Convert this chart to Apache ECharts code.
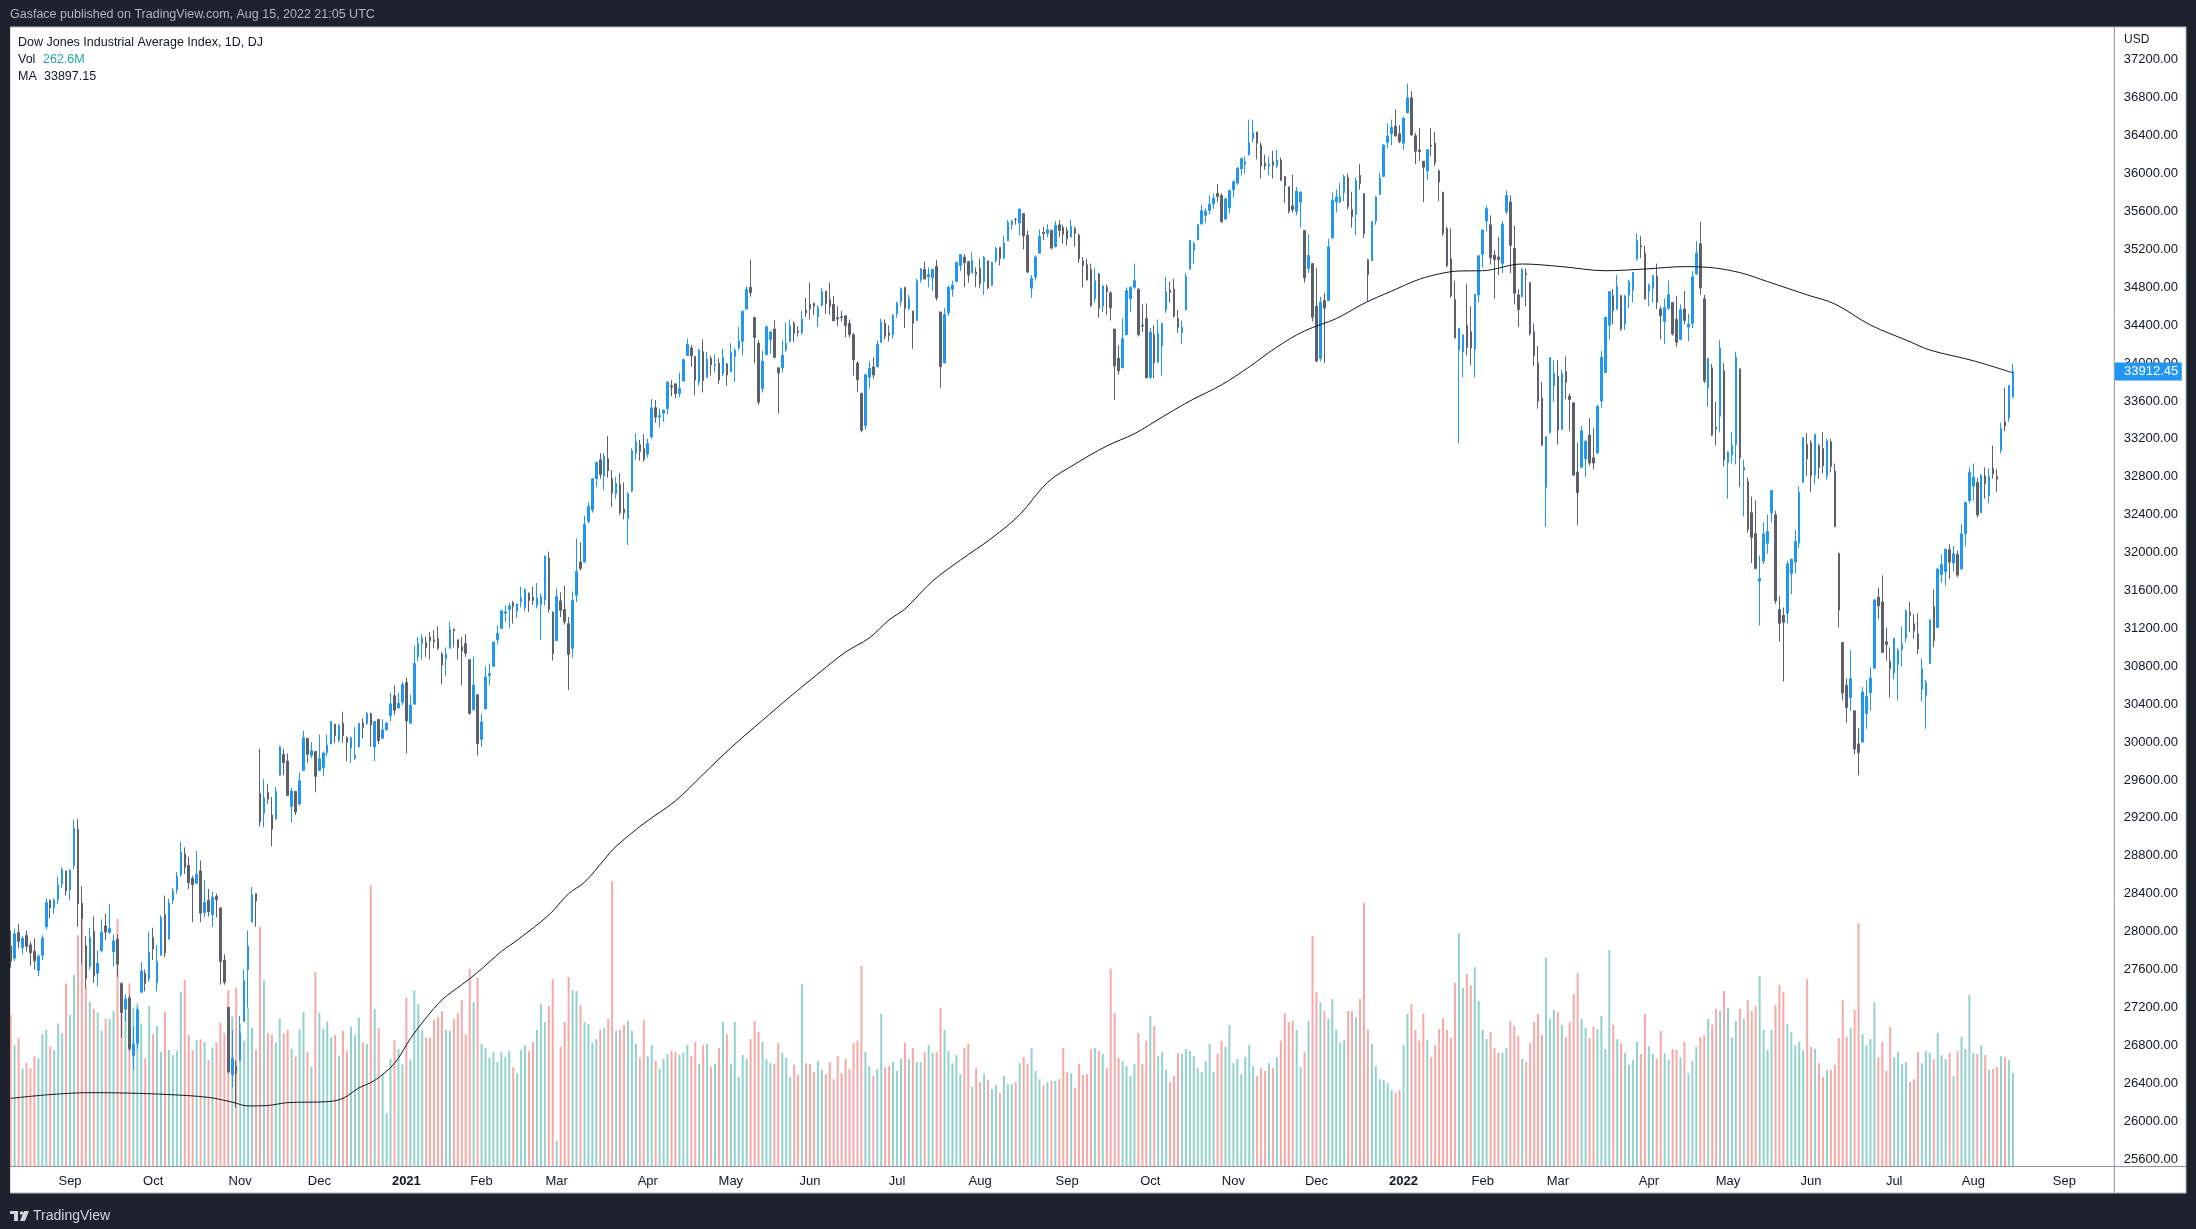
<!DOCTYPE html>
<html><head><meta charset="utf-8">
<script src="https://cdn.jsdelivr.net/npm/echarts/dist/echarts.min.js"></script>
<style>html,body{margin:0;padding:0;background:#1e222d;}#c{width:2196px;height:1229px;}</style>
</head><body><div id="c"></div>
<script>
// ---------------- DATA ----------------
const startDate = '2020-08-11';
const holidays = ['2020-09-07','2020-11-26','2020-12-25','2021-01-01','2021-01-18','2021-02-15','2021-04-02','2021-05-31','2021-07-05','2021-09-06','2021-11-25','2021-12-24','2022-01-17','2022-02-21','2022-04-15','2022-05-30','2022-06-20','2022-07-04','2022-09-05'];
const futureBars = 25;
const monthNames = ['Jan','Feb','Mar','Apr','May','Jun','Jul','Aug','Sep','Oct','Nov','Dec'];
// [open, close, low, high]
const ohlc = [
[27850,27687,27620,28010],[27720,27976,27690,28030],[27990,27897,27820,28080],[27830,27931,27760,27950],[27960,27844,27790,28010],
[27860,27778,27640,27890],[27790,27692,27600,27930],[27590,27740,27530,27760],[27750,27930,27700,27960],[28050,28308,28020,28350],
[28330,28249,28140,28340],[28250,28332,28190,28350],[28340,28492,28290,28580],[28500,28654,28460,28680],[28640,28430,28380,28640],
[28440,28646,28330,28660],[28700,29090,28660,29180],[29080,28292,28050,29190],[28300,28133,27660,28480],[27850,27501,27400,27950],
[27630,27940,27600,28040],[28000,27535,27460,28160],[27560,27666,27420,27800],[27800,27993,27780,28130],[28060,27995,27910,28190],
[27990,28032,27980,28290],[27790,27902,27630,27970],[27920,27657,27520,27970],[27450,27148,26880,27460],[27180,27288,27060,27340],
[27300,26763,26740,27330],[26690,26815,26540,27000],[26820,27174,26760,27200],[27360,27584,27360,27680],[27560,27452,27370,27600],
[27500,27782,27470,28000],[27940,27817,27700,28040],[27460,27683,27370,27860],[27750,28149,27750,28170],[28180,27773,27730,28380],
[27920,28303,27920,28350],[28330,28426,28290,28460],[28440,28587,28400,28630],[28600,28838,28580,28950],[28820,28680,28610,28890],
[28700,28515,28450,28790],[28560,28494,28100,28590],[28510,28606,28500,28850],[28640,28195,28100,28750],[28200,28309,28150,28540],
[28330,28211,28160,28450],[28180,28364,28050,28420],[28370,28336,28150,28400],[28250,27685,27440,28260],[27700,27463,27440,27760],
[27200,26520,26500,27200],[26490,26660,26360,26960],[26580,26502,26140,26640],[26640,26925,26640,27110],[27050,27481,27050,27600],
[27600,27848,27200,28010],[28100,28390,28100,28470],[28400,28323,28050,28400],[29460,29158,29110,29930],[29250,29410,29100,29610],
[29470,29398,29350,29560],[29230,29080,28900,29420],[29190,29480,29180,29530],[29650,29950,29650,29960],[29870,29784,29650,29930],
[29800,29438,29430,29880],[29320,29483,29150,29520],[29480,29263,29230,29480],[29350,29591,29330,29680],[29700,30046,29700,30120],
[30040,29872,29780,30040],[29860,29910,29830,30000],[29900,29639,29470,29900],[29700,29823,29700,30080],[29730,29884,29640,29900],
[29890,29970,29850,30080],[29980,30218,29980,30220],[30190,30070,29990,30190],[30020,30174,30000,30190],[30200,30068,29990,30320],
[30050,29999,29800,30060],[29940,30046,29780,30060],[29830,29862,29810,30160],[29950,30199,29940,30200],[30200,30155,30040,30250],
[30200,30304,30180,30320],[30300,30180,29950,30310],[29950,30216,29800,30220],[30240,30016,29980,30240],[30040,30129,30040,30240],
[30130,30200,30120,30210],[30280,30404,30220,30520],[30490,30336,30290,30600],[30360,30410,30360,30520],[30420,30606,30390,30640],
[30630,30224,29880,30680],[30200,30392,30200,30500],[30400,30829,30400,31020],[30900,31041,30850,31110],[31040,31098,30870,31140],
[31050,30998,30900,31110],[31110,31068,30870,31160],[31080,31060,30990,31180],[31090,30992,30970,31220],[30930,30814,30610,30950],
[30880,30930,30700,31000],[30990,31188,30990,31270],[31190,31176,31000,31200],[31080,30997,30870,31080],[31010,30960,30600,31110],
[31040,30937,30900,31140],[30870,30303,30290,30870],[30340,30603,30340,30900],[30500,29983,29860,30500],[30030,30212,29950,30300],
[30350,30688,30350,30800],[30700,30724,30600,30830],[30800,31056,30800,31060],[31080,31148,31030,31230],[31200,31386,31200,31390],
[31360,31375,31270,31440],[31400,31438,31200,31470],[31470,31431,31250,31490],[31380,31458,31310,31460],[31480,31523,31420,31640],
[31420,31613,31380,31620],[31570,31494,31370,31580],[31530,31494,31450,31640],[31440,31522,31410,31680],[31450,31537,31080,31570],
[31500,31962,31440,31970],[31940,31402,31370,32010],[31370,30932,30860,31380],[31070,31535,31070,31620],[31490,31391,31320,31580],
[31400,31270,31240,31650],[31250,30924,30550,31320],[30990,31496,30890,31590],[31550,31802,31480,32150],[31900,31833,31810,32110],
[31900,32297,31900,32390],[32330,32486,32310,32530],[32450,32779,32420,32780],[32780,32953,32690,32960],[32980,32826,32780,33050],
[32810,33015,32660,33050],[32990,32862,32790,33230],[32780,32628,32480,32870],[32620,32732,32570,32800],[32720,32423,32400,32840],
[32460,32420,32350,32740],[32360,32620,32080,32640],[32650,33073,32640,33100],[33050,33171,32980,33260],[33140,33067,32970,33190],
[33100,32982,32960,33250],[33040,33153,33000,33200],[33220,33527,33200,33620],[33530,33430,33370,33610],[33430,33446,33320,33520],
[33470,33504,33380,33510],[33520,33801,33460,33810],[33760,33746,33650,33820],[33780,33677,33630,33790],[33680,33731,33640,33900],
[33810,34036,33810,34050],[34080,34200,34080,34260],[34160,34078,33960,34190],[34070,33821,33660,34070],[33800,34137,33760,34150],
[34120,33816,33690,34250],[33850,34043,33840,34120],[34050,33982,33870,34080],[33970,33985,33900,34090],[34000,33821,33780,34050],
[33890,34060,33860,34150],[33990,33875,33760,34000],[33910,34113,33900,34210],[34070,34133,33800,34160],[34160,34230,34140,34380],
[34230,34548,34080,34550],[34570,34778,34570,34810],[34800,34743,34700,35090],[34480,34270,34000,34490],[34210,33587,33560,34240],
[33730,34022,33690,34130],[34090,34382,34080,34400],[34250,34327,34100,34340],[34360,34061,34050,34450],[33950,33896,33470,33910],
[33950,34084,33900,34240],[34140,34208,34120,34430],[34230,34394,34220,34460],[34420,34313,34220,34440],[34340,34324,34280,34390],
[34320,34465,34300,34550],[34560,34529,34490,34690],[34620,34575,34460,34850],[34630,34600,34510,34640],[34490,34577,34380,34610],
[34610,34756,34600,34790],[34760,34630,34520,34760],[34670,34600,34510,34850],[34620,34447,34440,34710],[34480,34466,34390,34600],
[34490,34480,34440,34550],[34500,34394,34270,34500],[34420,34299,34270,34460],[34300,34033,33870,34320],[34000,33823,33700,34020],
[33680,33290,33270,33690],[33340,33877,33300,33890],[33850,33946,33730,34020],[33960,33874,33830,34060],[33960,34196,33960,34240],
[34220,34434,34220,34470],[34420,34283,34250,34460],[34320,34292,34230,34400],[34300,34503,34260,34520],[34520,34633,34480,34650],
[34650,34786,34600,34800],[34800,34577,34370,34800],[34580,34681,34560,34720],[34550,34422,34150,34550],[34450,34870,34450,34890],
[34880,34996,34850,35000],[34990,34889,34880,35070],[34910,34934,34800,35010],[34900,34987,34760,35000],[35020,34688,34660,35090],
[34540,33962,33740,34540],[34000,34512,34000,34580],[34530,34798,34500,34820],[34780,34823,34700,34870],[34860,35062,34860,35070],
[35030,35144,34970,35150],[35120,35059,34800,35150],[35070,34930,34850,35080],[34950,35085,34950,35170],[34960,34935,34800,35010],
[35000,34838,34790,35100],[34860,35117,34720,35130],[35080,34793,34780,35080],[34820,35065,34820,35070],[35080,35209,35060,35230],
[35220,35102,35030,35220],[35110,35265,35100,35340],[35290,35485,35290,35510],[35460,35500,35410,35510],[35520,35516,35460,35530],
[35480,35626,35350,35630],[35580,35343,35200,35580],[35350,34961,34950,35400],[34790,34894,34690,34930],[34910,35120,34870,35140],
[35160,35336,35160,35410],[35380,35367,35300,35440],[35370,35406,35330,35470],[35400,35214,35200,35410],[35230,35456,35220,35500],
[35460,35400,35330,35510],[35430,35361,35260,35460],[35400,35313,35240,35440],[35330,35444,35330,35510],[35420,35369,35230,35440],
[35350,35100,35060,35370],[35080,35031,34800,35120],[35040,34879,34870,35100],[34990,34608,34590,35050],[34680,34870,34640,35000],
[34940,34578,34480,34950],[34600,34814,34540,34820],[34800,34751,34510,34830],[34740,34584,34450,34760],[34360,33970,33610,34360],
[34050,33919,33880,34190],[33950,34258,33950,34470],[34300,34765,34300,34800],[34680,34798,34540,34810],[34800,34870,34780,35050],
[34780,34300,34280,34790],[34400,34391,34330,34620],[34470,33844,33840,34630],[33850,34326,33830,34370],[34300,34003,33840,34400],
[34010,34315,34010,34460],[34180,34417,33870,34430],[34560,34755,34530,34910],[34770,34746,34640,34860],[34780,34496,34480,34890],
[34470,34378,34320,34560],[34320,34377,34200,34450],[34560,34912,34560,34950],[34990,35295,34990,35300],[35190,35259,35050,35280],
[35300,35458,35300,35470],[35470,35609,35460,35670],[35560,35603,35480,35630],[35610,35677,35570,35770],[35680,35741,35630,35790],
[35790,35757,35700,35890],[35770,35491,35480,35790],[35520,35731,35510,35750],[35640,35820,35580,35830],[35830,35913,35750,35930],
[35900,36053,35880,36070],[36050,36158,35980,36170],[36100,36124,36000,36180],[36200,36328,36190,36570],[36370,36432,36330,36570],
[36440,36320,36150,36440],[36300,36080,35950,36330],[36110,36080,36040,36200],[36080,36100,35980,36180],[36130,36087,35950,36240],
[36080,36143,36060,36250],[36140,35931,35920,36170],[35970,35871,35690,35970],[35860,35602,35580,35860],[35660,35620,35590,35990],
[35600,35814,35560,35860],[35700,35804,35430,35810],[35400,34899,34850,35400],[35000,35136,34950,35360],[35050,34484,34440,35050],
[34600,34022,34010,35000],[34050,34640,34020,34700],[34660,34580,34000,34740],[34660,35227,34660,35310],[35320,35719,35320,35800],
[35700,35754,35590,35830],[35700,35755,35690,35900],[35800,35971,35710,35990],[35960,35650,35620,36000],[35620,35545,35430,35810],
[35570,35927,35350,35960],[35980,35898,35830,36100],[35790,35365,35320,35790],[35090,34932,34650,35100],[35080,35493,35080,35500],
[35500,35754,35460,35760],[35780,35951,35780,36010],[35970,36302,35970,36310],[36330,36398,36270,36530],[36420,36488,36300,36570],
[36500,36398,36390,36680],[36420,36338,36320,36510],[36320,36585,36250,36600],[36640,36800,36640,36950],[36800,36408,36400,36870],
[36400,36236,36100,36430],[36250,36232,36130,36480],[36130,36068,35700,36130],[36030,36252,35930,36260],[36300,36290,36190,36480],
[36320,36114,36080,36440],[36030,35912,35710,36040],[35800,35369,35340,35810],[35420,35029,35010,35440],[35100,34715,34690,35420],
[34670,34265,34260,34870],[34140,34365,33150,34370],[34120,34298,33850,34300],[34400,34168,34080,34840],[34330,34160,33980,34600],
[34150,34725,33850,34730],[34720,35132,34640,35140],[35150,35405,35010,35410],[35500,35630,35390,35660],[35460,35111,35040,35560],
[35140,35090,34680,35190],[35120,35091,34930,35330],[35050,35463,34950,35500],[35600,35768,35570,35820],[35700,35242,34950,35770],
[35210,34738,34620,35450],[34720,34566,34380,34780],[34700,34989,34700,35000],[34950,34935,34600,35000],[34850,34312,34290,34850],
[34330,34079,33970,34420],[34000,33597,33520,34180],[33630,33132,33130,33800],[32690,33224,32270,33230],[33270,34059,33250,34060],
[33760,33893,33590,34030],[33860,33295,33140,34030],[33300,33891,33300,33930],[33910,33795,33620,34070],[33650,33615,33280,33680],
[33580,32818,32810,33590],[32850,32633,32290,33160],[32900,33286,32900,33340],[32990,33174,32800,33190],[33240,32945,32920,33420],
[33000,32945,32880,33310],[33050,33545,33040,33560],[33600,34063,33530,34130],[33900,34481,33900,34490],[34400,34755,34250,34760],
[34710,34553,34410,34780],[34570,34808,34560,34930],[34710,34358,34340,34720],[34410,34708,34350,34720],[34720,34861,34580,34880],
[34770,34956,34640,34960],[35100,35294,35080,35370],[35240,35228,35110,35340],[35160,34678,34670,35240],[34760,34818,34600,34840],
[34790,34922,34640,34930],[34920,34641,34570,35050],[34570,34497,34250,34600],[34440,34584,34200,34680],[34580,34721,34560,34870],
[34640,34308,34290,34640],[34460,34221,34170,34710],[34250,34565,34240,34620],[34570,34451,34410,34760],[34380,34412,34230,34520],
[34420,34911,34370,34970],[34940,35161,34940,35290],[35260,34793,34720,35490],[34680,33811,33790,34720],[33740,34049,33540,34050],
[33950,33240,33230,33990],[33320,33302,33130,33590],[33440,34160,33270,34240],[33920,32977,32910,34000],[32950,33062,32570,33070],
[33030,33129,32940,33270],[33140,34061,32930,34120],[33940,32998,32690,33940],[32870,32899,32380,32980],[32750,32246,32210,32790],
[32420,32161,31890,32590],[32200,31834,31820,32550],[31700,31730,31230,31970],[31910,32197,31880,32320],[32100,32223,31990,32400],
[32420,32655,32320,32660],[32400,31490,31460,32440],[31400,31253,31060,31540],[31340,31262,30640,31420],[31360,31880,31250,31910],
[31780,31929,31560,31940],[31900,32120,31780,32240],[32100,32637,32050,32700],[32740,33213,32740,33220],[33140,32990,32810,33260],
[33160,32813,32640,33190],[32820,33248,32720,33250],[33130,32900,32780,33150],[33100,32916,32840,33270],[32810,33180,32770,33200],
[33170,32910,32850,33200],[32860,32273,32270,32940],[31990,31393,31210,32000],[31050,30517,30440,31050],[30600,30365,30200,30670],
[30470,30669,30330,30970],[30330,29927,29870,30330],[29980,29889,29650,30150],[30000,30530,30000,30580],[30300,30483,30140,30650],
[30520,30677,30330,30790],[30780,31501,30780,31510],[31530,31439,31300,31630],[31480,30947,30940,31760],[31060,31029,30860,31210],
[30850,30775,30470,31000],[30730,31097,30660,31100],[30820,30968,30440,30990],[30980,31037,30800,31220],[31100,31385,31050,31400],
[31370,31338,31160,31480],[31250,31174,31090,31350],[31140,30982,30930,31360],[30560,30773,30430,30880],[30490,30630,30140,30660],
[30830,31288,30830,31300],[31430,31073,31000,31610],[31210,31827,31210,31840],[31770,31875,31680,31980],[31800,32036,31650,32040],
[32030,31899,31720,32090],[31890,31990,31800,32070],[31980,31762,31740,32020],[31830,32198,31810,32300],[32200,32530,32070,32540],
[32550,32845,32520,32900],[32700,32798,32550,32940],[32740,32397,32370,32790],[32420,32813,32420,32830],[32810,32727,32570,32900],
[32600,32803,32520,32890],[32890,32833,32780,33130],[32800,32775,32640,32880],[33080,33310,33050,33370],[33380,33336,33280,33740],
[33420,33761,33380,33770],[33640,33912.45,33640,33990]
];
// volume in millions
const volume = [
426,341,360,275,291,275,310,304,372,384, 338,327,402,374,515,426,539,651,694,506,
463,443,433,381,415,415,437,697,520,435, 515,447,459,402,304,451,372,395,322,435,
327,313,324,492,525,370,327,355,357,349, 299,334,348,404,374,496,421,503,402,353,
447,390,327,675,523,376,371,348,416,374, 384,330,308,386,434,322,280,547,432,387,
407,362,369,311,381,324,393,369,418,348, 345,791,443,389,261,149,302,355,329,286,
475,301,496,456,384,362,362,412,421,437, 384,381,415,431,468,371,556,462,531,345,
332,306,321,294,321,308,324,279,262,327, 341,324,350,384,457,406,451,527,71,336,
406,533,496,494,454,405,400,347,358,384, 389,415,804,381,384,398,409,381,345,305,
412,310,341,296,274,302,316,324,321,313, 319,341,310,350,288,341,344,279,288,333,
406,372,288,406,251,313,302,358,409,378, 350,302,290,288,347,319,305,251,285,257,
513,290,288,265,296,271,259,293,245,310, 262,302,274,347,353,564,321,282,254,274,
429,279,282,293,268,302,347,302,333,293, 293,321,341,319,321,446,384,324,290,313,
259,333,344,223,276,237,259,243,217,228, 206,254,231,231,237,290,307,288,333,268,
245,228,237,240,240,245,333,265,262,220, 288,257,259,330,333,324,316,276,556,431,
305,296,282,254,288,375,288,353,423,395, 310,321,271,237,254,319,316,330,324,310,
276,265,296,344,265,316,353,336,398,290, 302,259,307,341,282,254,276,268,290,276,
307,353,431,406,409,384,279,321,409,649, 491,462,437,415,471,384,347,355,437,437,
420,471,742,384,344,282,245,243,234,214, 206,214,341,429,457,384,353,429,355,307,
341,386,417,384,361,516,657,502,541,510, 561,465,384,358,378,333,319,319,333,409,
395,367,302,293,347,406,429,369,587,415, 440,434,398,364,406,485,544,415,389,361,
392,386,423,330,609,398,358,347,319,285, 299,350,316,429,338,316,302,381,319,299,
330,327,307,350,262,296,336,364,369,415, 398,443,437,494,446,361,409,443,415,468,
437,451,536,384,327,384,454,510,491,400, 378,341,350,327,527,336,330,290,251,271,
271,285,361,468,364,389,440,685,372,341, 358,462,307,350,268,392,307,321,288,293,
237,245,321,290,324,319,302,375,313,302, 319,254,324,364,330,482,319,316,341,313,
271,274,279,310,307,299,262.6
];
// moving-average samples: [bar index, value]
const maSamples = [
[0,26240],[10,26280],[20,26300],[30,26295],[40,26280],[50,26250],[56,26200],[60,26160],[65,26165],[70,26195],
[80,26205],[84,26240],[88,26350],[92,26430],[97,26610],[101,26870],[105,27090],[109,27280],[114,27440],[118,27570],
[124,27790],[128,27910],[136,28175],[141,28400],[145,28520],[150,28760],[153,28900],[160,29140],[168,29380],[175,29660],
[182,29940],[190,30230],[197,30480],[204,30720],[211,30950],[217,31100],[222,31290],[226,31405],[233,31700],[240,31920],
[248,32155],[255,32400],[262,32740],[269,32935],[277,33125],[284,33255],[291,33430],[298,33600],[306,33770],[313,33960],
[320,34170],[327,34340],[335,34470],[342,34630],[349,34760],[356,34885],[362,34950],[366,34972],[372,34975],[382,35046],
[392,35018],[403,34975],[413,34993],[423,35018],[429,35011],[437,34955],[444,34860],[454,34720],[461,34624],[470,34402],
[480,34226],[485,34138],[496,34025],[506,33897.15]
];
const priceAxis = {min: 25600, max: 37600, step: 400, lastShown: 37200};
const texts = {
  header: 'Gasface published on TradingView.com, Aug 15, 2022 21:05 UTC',
  title: 'Dow Jones Industrial Average Index, 1D, DJ',
  currency: 'USD'
};

// ---------------- BUILD ----------------
function tradingDays(start, count, hol){
  const out = []; const d = new Date(start + 'T00:00:00Z');
  while (out.length < count) {
    const dow = d.getUTCDay(); const s = d.toISOString().slice(0,10);
    if (dow !== 0 && dow !== 6 && hol.indexOf(s) < 0) out.push(s);
    d.setUTCDate(d.getUTCDate() + 1);
  }
  return out;
}
const categories = tradingDays(startDate, ohlc.length + futureBars, holidays);
const isMonthStart = categories.map((c,i) => i > 0 && c.slice(5,7) !== categories[i-1].slice(5,7));

const FONT = '"Liberation Sans", Arial, sans-serif';
const UP = '#2196f3', DOWN = '#5d606b';
const UPV = '#92d2cc', DOWNV = '#f7a9a7';

const chart = echarts.init(document.getElementById('c'), null, {renderer:'canvas'});
const W = 2196, H = 1229;
const plotRight = 2113.8, plotLeft = 8.7;
const priceTop = 22, priceBottom = 1159, volBottom = 1166, frameTop = 27, frameBottom = 1193;
const volMax = (volBottom - frameTop) * 2.82;

const option = {
  animation: false,
  backgroundColor: '#1e222d',
  grid: [
    {left: plotLeft, right: W - plotRight, top: priceTop, bottom: H - priceBottom},
    {left: plotLeft, right: W - plotRight, top: frameTop, bottom: H - volBottom}
  ],
  xAxis: [
    {type:'category', gridIndex:0, data: categories, boundaryGap: true,
     axisLine:{show:false}, axisTick:{show:false}, splitLine:{show:false},
     axisLabel:{
       interval: (i) => isMonthStart[i],
       formatter: (v) => { const m = +v.slice(5,7) - 1; return m === 0 ? '{b|' + v.slice(0,4) + '}' : monthNames[m]; },
       margin: 16, fontSize: 13, color: '#131722', fontFamily: FONT,
       rich: {b: {fontWeight: 'bold', fontSize: 13, color: '#131722', fontFamily: FONT}}
     }},
    {type:'category', gridIndex:1, data: categories, boundaryGap: true, show:false}
  ],
  yAxis: [
    {type:'value', gridIndex:0, position:'right', min: priceAxis.min, max: priceAxis.max, interval: priceAxis.step,
     axisLine:{show:false}, axisTick:{show:false}, splitLine:{show:false},
     axisLabel:{formatter: (v) => v > priceAxis.lastShown ? '' : v.toFixed(2), align:'left', margin: 10,
       fontSize: 13, color:'#131722', fontFamily: FONT}},
    {type:'value', gridIndex:1, min:0, max: volMax, show:false}
  ],
  series: [
    {type:'bar', name:'Vol', xAxisIndex:1, yAxisIndex:1, barWidth: 2, z: 1, silent: true,
     data: volume.map((v,i) => ({value: v, itemStyle: {color: ohlc[i][1] >= ohlc[i][0] ? UPV : DOWNV}}))},
    {type:'candlestick', name:'DJI', xAxisIndex:0, yAxisIndex:0, barWidth: 2, z: 2, silent: true,
     data: ohlc,
     itemStyle: {color: UP, color0: DOWN, borderColor: UP, borderColor0: DOWN, borderWidth: 1}},
    {type:'line', name:'MA', xAxisIndex:0, yAxisIndex:0, data: maSamples, showSymbol:false, smooth: 0.35,
     z: 3, silent: true, lineStyle: {color:'#131722', width: 1}}
  ],
  graphic: []
};
chart.setOption(option);

const last = ohlc[ohlc.length - 1];
const lastY = chart.convertToPixel({yAxisIndex: 0}, last[1]);
const maLast = maSamples[maSamples.length - 1][1];
const volLast = volume[volume.length - 1];

chart.setOption({graphic: [
  {type:'rect', z:-10, shape:{x:10, y:frameTop, width:2176, height:frameBottom-frameTop}, style:{fill:'#ffffff', stroke:'#b2b5be', lineWidth:1}},
  {type:'rect', z:100, shape:{x:0, y:frameTop, width:10, height:frameBottom-frameTop}, style:{fill:'#1e222d'}},
  {type:'line', z:100, shape:{x1:plotRight+0.5, y1:frameTop, x2:plotRight+0.5, y2:frameBottom}, style:{stroke:'#8e919a', lineWidth:1}},
  {type:'line', z:100, shape:{x1:10, y1:volBottom+0.5, x2:2186, y2:volBottom+0.5}, style:{stroke:'#8e919a', lineWidth:1}},
  {type:'text', z:100, x:10, y:15, style:{text: texts.header, fill:'#b2b5be', font:'12.5px ' + FONT, textVerticalAlign:'middle'}},
  {type:'text', z:100, x:18, y:43, style:{text: texts.title, fill:'#131722', font:'12.5px ' + FONT, textVerticalAlign:'middle'}},
  {type:'text', z:100, x:18, y:60, style:{text:'Vol', fill:'#131722', font:'12.5px ' + FONT, textVerticalAlign:'middle'}},
  {type:'text', z:100, x:43, y:60, style:{text: volLast.toFixed(1) + 'M', fill:'#26a69a', font:'12.5px ' + FONT, textVerticalAlign:'middle'}},
  {type:'text', z:100, x:18, y:77, style:{text:'MA', fill:'#131722', font:'12.5px ' + FONT, textVerticalAlign:'middle'}},
  {type:'text', z:100, x:44, y:77, style:{text: maLast.toFixed(2), fill:'#131722', font:'12.5px ' + FONT, textVerticalAlign:'middle'}},
  {type:'text', z:100, x:2124, y:40, style:{text: texts.currency, fill:'#131722', font:'12px ' + FONT, textVerticalAlign:'middle'}},
  {type:'rect', z:101, shape:{x:plotRight+1, y:lastY-9, width:67, height:18}, style:{fill:'#2196f3'}},
  {type:'text', z:102, x:2124, y:lastY, style:{text: last[1].toFixed(2), fill:'#ffffff', font:'13px ' + FONT, textVerticalAlign:'middle'}},
  // TradingView logo
  {type:'rect', z:100, shape:{x:10, y:1211, width:8, height:3}, style:{fill:'#d1d4dc'}},
  {type:'rect', z:100, shape:{x:14, y:1211, width:4, height:10}, style:{fill:'#d1d4dc'}},
  {type:'circle', z:100, shape:{cx:21.5, cy:1213, r:1.8}, style:{fill:'#d1d4dc'}},
  {type:'polygon', z:100, shape:{points:[[24,1211],[29,1211],[25,1221],[20,1221]]}, style:{fill:'#d1d4dc'}},
  {type:'text', z:100, x:33, y:1216, style:{text:'TradingView', fill:'#d1d4dc', font:'14px ' + FONT, textVerticalAlign:'middle'}}
]});
</script>
</body></html>
